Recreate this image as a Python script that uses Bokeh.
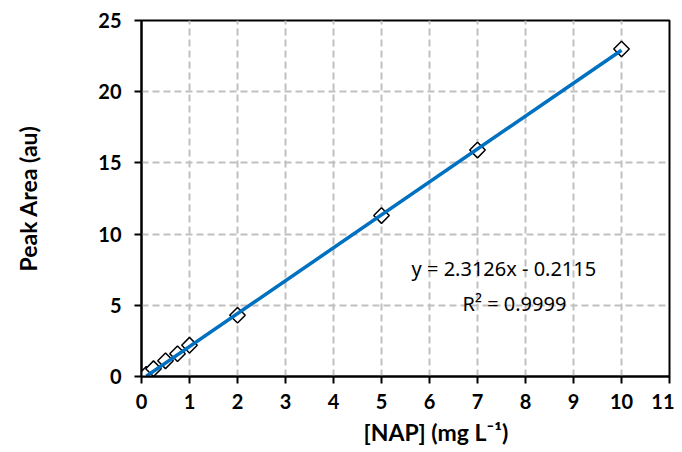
import numpy as np
from bokeh.plotting import figure
from bokeh.models import Range1d, Label, FixedTicker, Title
from bokeh.embed import file_html
from bokeh.resources import INLINE

# data
conc = [0.1, 0.25, 0.5, 0.75, 1.0, 2.0, 5.0, 7.0, 10.0]
area = [0.15, 0.55, 1.1, 1.6, 2.2, 4.3, 11.3, 15.9, 23.0]
slope = 2.3126
intercept = -0.2115
eq_text = "y = 2.3126x - 0.2115"
r2_text = "R² = 0.9999"
x_ticks = list(range(0, 12))
y_ticks = [0, 5, 10, 15, 20, 25]
x_label = "[NAP] (mg L⁻¹)"
y_label = "Peak Area (au)"

FONT = "Lato"

p = figure(width=674, height=444, output_backend="svg", toolbar_location=None,
           frame_width=528, frame_height=356,
           x_range=Range1d(0, 11), y_range=Range1d(0, 25),
           min_border_left=141, min_border_top=20, min_border_right=5, min_border_bottom=20)

p.background_fill_color = "white"
p.border_fill_color = "white"
p.outline_line_color = "black"
p.outline_line_width = 2

for ax in (p.xaxis[0], p.yaxis[0]):
    ax.axis_line_color = "black"
    ax.axis_line_width = 2
    ax.major_tick_line_color = "black"
    ax.major_tick_line_width = 2
    ax.major_tick_out = 7
    ax.major_tick_in = 0
    ax.minor_tick_line_color = None
    ax.major_label_text_font = FONT
    ax.major_label_text_font_style = "bold"
    ax.major_label_text_font_size = "20px"
    ax.major_label_text_color = "black"

p.xaxis.ticker = FixedTicker(ticks=x_ticks)
p.yaxis.ticker = FixedTicker(ticks=y_ticks)
p.xaxis.major_label_standoff = 10
p.yaxis.major_label_standoff = 13

p.yaxis.axis_label = y_label
p.yaxis.axis_label_text_font = FONT
p.yaxis.axis_label_text_font_style = "bold"
p.yaxis.axis_label_text_font_size = "23px"
p.yaxis.axis_label_text_color = "black"
p.yaxis.axis_label_standoff = 53

p.add_layout(Title(text=x_label, align="left", offset=222, text_font=FONT,
                   text_font_size="23px", text_font_style="bold", text_color="black",
                   standoff=8), "below")

for g in (p.xgrid[0], p.ygrid[0]):
    g.grid_line_color = "#c0c0c0"
    g.grid_line_width = 2
    g.grid_line_dash = "7 4"

# markers
p.scatter(conc, area, marker="square", size=11, angle=np.pi / 4,
          fill_color="white", line_color="black", line_width=1.5)

# trendline
xs = [min(conc), max(conc)]
ys = [slope * x + intercept for x in xs]
p.line(xs, ys, line_color="#0070C0", line_width=3.5)

p.add_layout(Label(x=7.55, y=7.6, text=eq_text, text_font="Noto Sans", text_font_size="20px",
                   text_align="center", text_baseline="middle", text_color="black"))
p.add_layout(Label(x=7.77, y=5.15, text=r2_text, text_font="Noto Sans", text_font_size="20px",
                   text_align="center", text_baseline="middle", text_color="black"))

open("out.html", "w").write(file_html(p, INLINE))
